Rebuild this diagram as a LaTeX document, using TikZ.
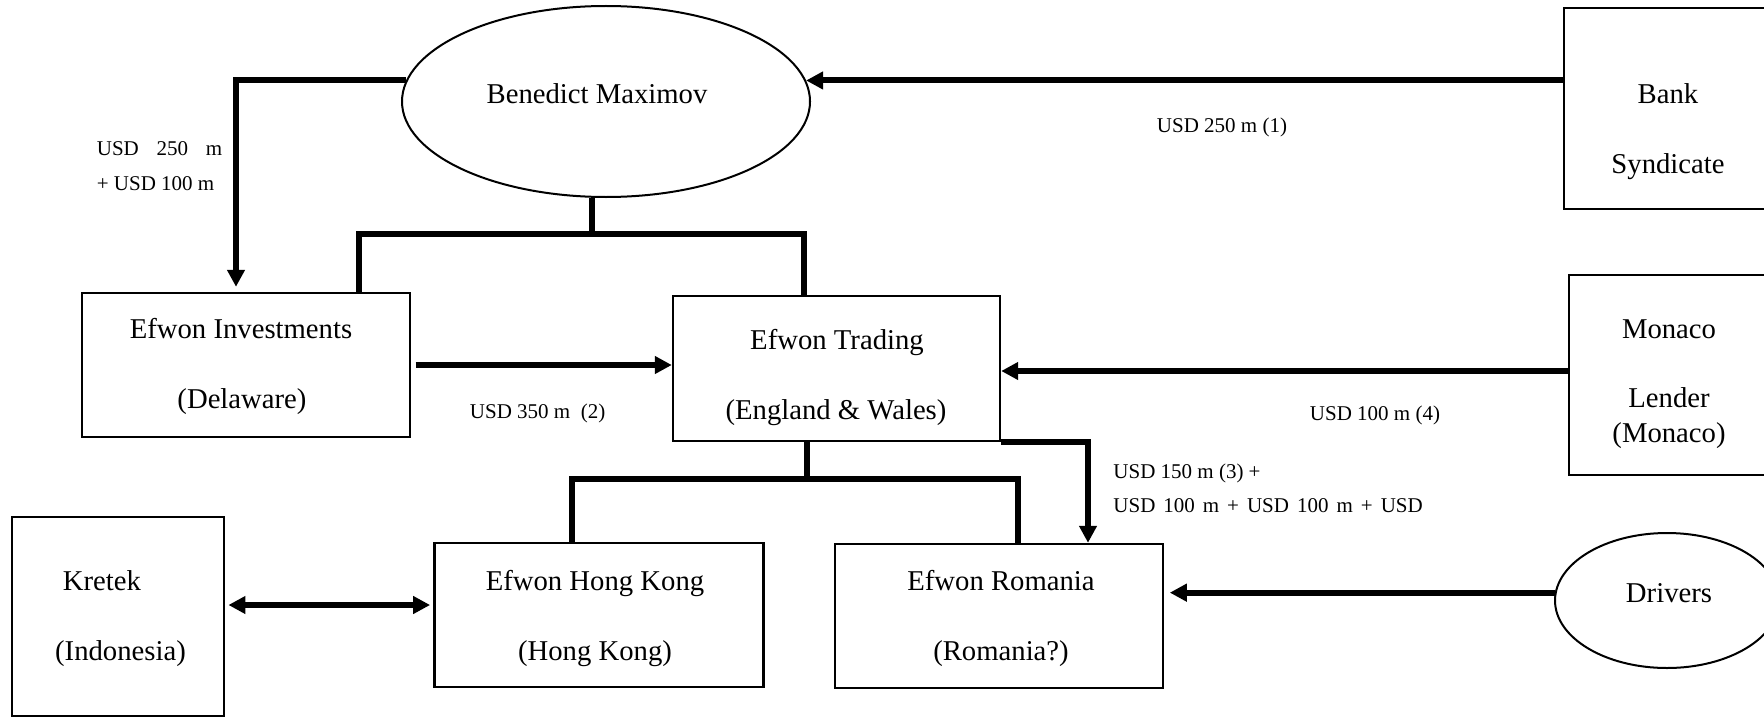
\documentclass[tikz,border=0pt]{standalone}
\usepackage{fontspec}
\setmainfont{Liberation Serif}
\usetikzlibrary{shapes.geometric,arrows.meta,calc}
\begin{document}
\begin{tikzpicture}[x=0.5pt,y=-0.5pt,
  box/.style={draw,line width=1.2pt,rectangle,inner sep=0pt},
  oval/.style={draw,line width=1pt,ellipse,inner sep=0pt},
  txt/.style={inner sep=0pt,anchor=base,font=\fontsize{14.35}{17}\selectfont},
  lbl/.style={inner sep=0pt,anchor=base,font=\fontsize{10.5}{12.6}\selectfont},
  lblw/.style={lbl,anchor=base west},
  flow/.style={line width=3pt,-{Triangle[length=8.5pt,width=8.5pt]}},
  dflow/.style={line width=3pt,{Triangle[length=8.5pt,width=8.5pt]}-{Triangle[length=8.5pt,width=8.5pt]}},
  tree/.style={line width=3pt}]
\useasboundingbox (0,0) rectangle (1764,717);
\clip (0,0) rectangle (1764,717);

% shapes
\node[oval,minimum width=204pt,minimum height=95.5pt] (maxi) at (606,101.5) {};
\node[box,minimum width=113pt,minimum height=100.5pt] (bank) at (1677,108.5) {};
\node[box,minimum width=111pt,minimum height=100pt] (mon) at (1680,375) {};
\node[box,minimum width=164pt,minimum height=72pt] (inv) at (246,365) {};
\node[box,minimum width=163.5pt,minimum height=72.5pt] (trad) at (836.5,368.5) {};
\node[box,minimum width=164.5pt,minimum height=72pt] (hk) at (599,615) {};
\node[box,minimum width=164pt,minimum height=72pt] (rom) at (999,616) {};
\node[box,minimum width=106.25pt,minimum height=99.5pt] (kre) at (118,616.5) {};
\node[oval,minimum width=112pt,minimum height=67.5pt] (drv) at (1667,600.5) {};

% texts
\node[txt] (tmaxi) at (597,104) {Benedict Maximov};
\node[txt] (tbank1) at (1668,104) {Bank};
\node[txt] (tbank2) at (1668,173) {Syndicate};
\node[txt] (tmon1) at (1669,338) {Monaco};
\node[txt] (tmon2) at (1669,407) {Lender};
\node[txt] (tmon3) at (1669,442) {(Monaco)};
\node[txt] (tinv1) at (241,338) {Efwon Investments};
\node[txt] (tinv2) at (242,408) {(Delaware)};
\node[txt] (ttrad1) at (837,349) {Efwon Trading};
\node[txt] (ttrad2) at (836,419) {(England \& Wales)};
\node[txt] (thk1) at (595,590) {Efwon Hong Kong};
\node[txt] (thk2) at (595,660) {(Hong Kong)};
\node[txt] (tkre1) at (102,590) {Kretek};
\node[txt] (tkre2) at (120.5,660) {(Indonesia)};
\node[txt] (trom1) at (1001,590) {Efwon Romania};
\node[txt] (trom2) at (1001,660) {(Romania?)};
\node[txt] (tdrv) at (1669,602) {Drivers};

% labels
\node[lblw] (l1a) at (96.5,155.7) {USD\hspace{8.9pt}250\hspace{8.9pt}m};
\node[lblw] (l1b) at (96.5,190.7) {+ USD 100 m};
\node[lbl] (lbank) at (1222,132.7) {USD 250 m (1)};
\node[lbl] (linv) at (537.6,418) {USD 350 m~~(2)};
\node[lbl] (lmon) at (1375,420.7) {USD 100 m (4)};
\node[lblw] (lrom1) at (1113,478) {USD 150 m (3) +};
\node[lblw] (lrom2) at (1113,512) {\spaceskip=4pt USD 100 m + USD 100 m + USD};

% helper coordinates
\coordinate (j1) at (592,234);
\coordinate (j1l) at (359,234);
\coordinate (j1r) at (804,234);
\coordinate (j2) at (806.6,479);
\coordinate (j2l) at (572,479);
\coordinate (j2r) at (1018,479);
\coordinate (c2) at (236,83);
\coordinate (c3) at (1088,441);
\coordinate (c4) at (1300,371);
\coordinate (c5) at (300,605);

% ownership tree
\draw[tree] (maxi.south -| j1) -- (j1);
\draw[tree] (inv.north -| j1l) -- (j1l) -- (j1r) -- (trad.north -| j1r);
\draw[tree] (trad.south -| j2) -- (j2);
\draw[tree] (hk.north -| j2l) -- (j2l) -- (j2r) -- (rom.north -| j2r);

% flows
\draw[flow] (bank.west |- maxi.6.2) -- (maxi.6.2);
\draw[flow,shorten >=2.5pt] (maxi.174.7) -| (inv.north -| c2);
\draw[flow,shorten <=2.25pt] (inv.east) -- (inv.east -| trad.west);
\draw[flow] (mon.west |- c4) -- (trad.east |- c4);
\draw[flow] (trad.south east) -| (rom.north -| c3);
\draw[dflow,shorten <=1.5pt,shorten >=1.6pt] (kre.east |- c5) -- (hk.west |- c5);
\draw[flow,shorten >=2.8pt] (drv.176.7) -- (rom.east |- drv.176.7);
\end{tikzpicture}
\end{document}
